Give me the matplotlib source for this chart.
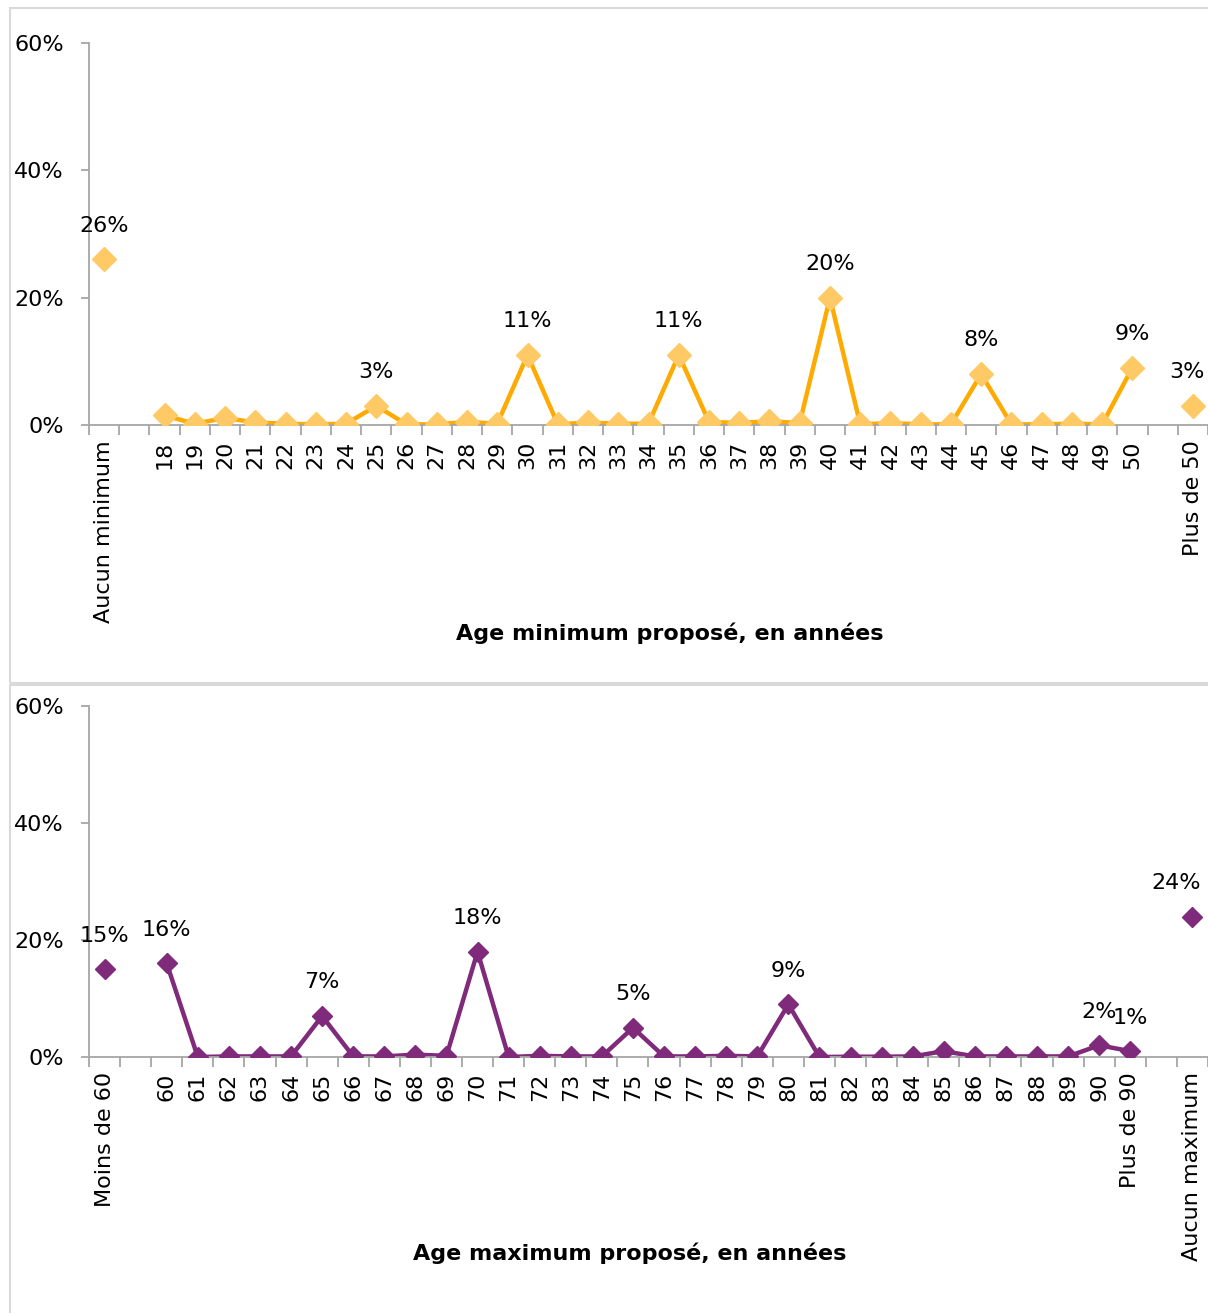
import matplotlib.pyplot as plt
from matplotlib.patches import Rectangle

# Age minimum: categories and values (%)
min_first_label = "Aucun minimum"
min_first_value = 26
min_ages = [str(a) for a in range(18, 51)]
min_values = [1.5, 0.2, 1.1, 0.4, 0.2, 0.1, 0.2, 3.0, 0.1, 0.1, 0.5, 0.2, 11, 0.1, 0.4,
              0.2, 0.2, 11, 0.5, 0.3, 0.6, 0.3, 20, 0.1, 0.3, 0.1, 0.1, 8, 0.1, 0.1,
              0.2, 0.1, 9]
min_last_label = "Plus de 50"
min_last_value = 3
min_labelled = ["25", "30", "35", "40", "45", "50"]

# Age maximum: categories and values (%)
max_first_label = "Moins de 60"
max_first_value = 15
max_ages = [str(a) for a in range(60, 91)] + ["Plus de 90"]
max_values = [16, 0, 0.1, 0.1, 0.1, 7, 0.1, 0.1, 0.4, 0.2, 18, 0, 0.2, 0.1, 0.1, 5,
              0.1, 0.1, 0.2, 0.1, 9, 0, 0.05, 0.05, 0.1, 1, 0.1, 0.1, 0.1, 0.1, 2, 1]
max_last_label = "Aucun maximum"
max_last_value = 24
max_labelled = ["60", "65", "70", "75", "80", "90", "Plus de 90"]

plt.rcParams['font.family'] = ['DejaVu Sans']
FS = 16
GRID = '#A6A6A6'


def draw_panel(ax, first_label, first_value, ages, values, last_label, last_value,
               labelled, line_color, marker_color, msize, last_dx,
               title, title_x, title_y):
    # category layout: first, blank, ages..., blank, last
    cats = [first_label, ""] + ages + ["", last_label]
    n = len(cats)
    xs_line = list(range(2, 2 + len(ages)))
    x_last = n - 1

    ax.plot(xs_line, values, color=line_color, lw=3.2, zorder=2)
    ax.plot(xs_line, values, ls='none', marker='D', ms=msize, mfc=marker_color,
            mec=marker_color, zorder=3)
    ax.plot([0, x_last], [first_value, last_value], ls='none', marker='D', ms=msize,
            mfc=marker_color, mec=marker_color, zorder=3)

    ax.annotate(f"{first_value:.0f}%", (0, first_value), xytext=(0, 17),
                textcoords='offset points', ha='center', va='bottom', fontsize=FS)
    ax.annotate(f"{last_value:.0f}%", (x_last, last_value), xytext=(last_dx, 17),
                textcoords='offset points', ha='center', va='bottom', fontsize=FS)
    for x, a, v in zip(xs_line, ages, values):
        if a in labelled:
            ax.annotate(f"{v:.0f}%", (x, v), xytext=(0, 17),
                        textcoords='offset points', ha='center', va='bottom', fontsize=FS)

    ax.set_xlim(-0.5, n - 0.5)
    ax.set_ylim(0, 60)
    ax.set_yticks([0, 20, 40, 60])
    ax.set_yticklabels(["0%", "20%", "40%", "60%"], fontsize=FS)
    ax.set_xticks(range(n))
    ax.set_xticklabels(cats, rotation=90, fontsize=FS)
    ax.set_xticks([i - 0.5 for i in range(n + 1)], minor=True)
    ax.tick_params(axis='x', which='major', length=0, pad=11)
    ax.tick_params(axis='x', which='minor', length=7, color=GRID, width=1.3)
    ax.tick_params(axis='y', length=6, color=GRID, width=1.3, pad=12)
    for s in ['top', 'right']:
        ax.spines[s].set_visible(False)
    for s in ['left', 'bottom']:
        ax.spines[s].set_color(GRID)
        ax.spines[s].set_linewidth(1.3)
    ax.patch.set_alpha(0)
    fig.text(title_x, title_y, title, ha='center', va='center', fontsize=FS,
             fontweight='bold')


fig = plt.figure(figsize=(12.08, 13.13), dpi=100)

# panel frames
fig.patches.append(Rectangle((10 / 1208, 1 - 683 / 1313), 1.2, 675 / 1313,
                             transform=fig.transFigure, fill=False, ec='#D9D9D9', lw=1.5))
fig.patches.append(Rectangle((10 / 1208, -0.1), 1.2, 0.1 + 628 / 1313,
                             transform=fig.transFigure, fill=False, ec='#D9D9D9', lw=1.5))

ax1 = fig.add_axes([89 / 1208, 1 - 425 / 1313, 1 - 89 / 1208, 382 / 1313])
draw_panel(ax1, min_first_label, min_first_value, min_ages, min_values, min_last_label,
           min_last_value, min_labelled, '#FFAA00', '#FFC966', 12, -4,
           "Age minimum proposé, en années", 670 / 1208, 1 - 633 / 1313)

ax2 = fig.add_axes([89 / 1208, 1 - 1057 / 1313, 1 - 89 / 1208, 351 / 1313])
draw_panel(ax2, max_first_label, max_first_value, max_ages, max_values, max_last_label,
           max_last_value, max_labelled, '#7F2A7A', '#7F2A7A', 10, -12,
           "Age maximum proposé, en années", 630 / 1208, 1 - 1253 / 1313)

fig.savefig('out.png', dpi=100)
